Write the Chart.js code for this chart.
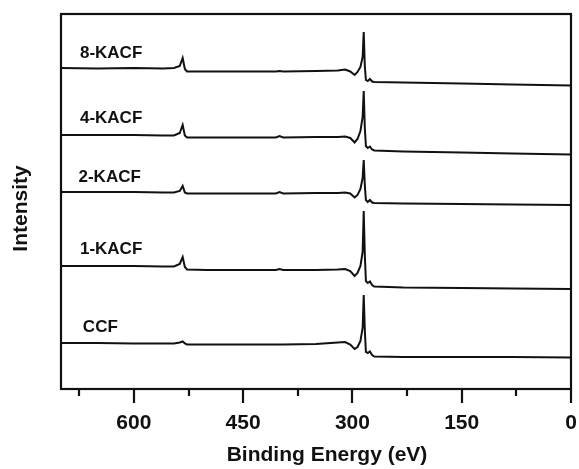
<!DOCTYPE html>
<html>
<head>
<meta charset="utf-8">
<script src="https://cdn.jsdelivr.net/npm/chart.js@4.4.1/dist/chart.umd.min.js"></script>
<style>
    body { margin: 0; background: #fff; }
</style>
</head>
<body>
<canvas id="myChart" width="579" height="469"></canvas>
<script>
// binding energy (eV) sample points shared by all spectra
const energy = [700, 650, 600, 560, 545, 537, 533, 530, 527, 500, 450, 405, 400, 395, 350, 320, 310, 303, 297, 293, 289, 286, 284.5, 283, 281.5, 279, 276, 273, 270, 230, 150, 80, 0];

// intensity (a.u., already offset for stacking)
const kacf8 = [321, 320.5, 321, 320.5, 321, 323, 331, 320, 317.5, 317.5, 317.5, 317.5, 318, 317.5, 318, 318.5, 319.5, 317.5, 314, 317, 322, 332, 357, 323, 309, 308, 310, 307.5, 307, 306.5, 305.5, 304.5, 303.5];
const kacf4 = [254, 254, 254, 253.5, 253.5, 256, 264, 253.5, 251.5, 251.5, 251.5, 251.5, 253, 251.5, 252, 252, 252.5, 251, 246.5, 250, 258, 272, 298, 261, 243, 241, 242.5, 239.5, 238.5, 237.5, 236.5, 235.5, 234.5];
const kacf2 = [197, 197, 197, 196.5, 196.5, 198, 203, 196.5, 195.5, 195.5, 195.5, 195.5, 197, 195.5, 196, 196, 196.5, 195.5, 191.5, 194, 200, 211, 229, 204, 189, 187, 189, 186.5, 186, 185.5, 185, 184.5, 184];
const kacf1 = [123, 123, 123, 122.5, 122.5, 125, 132, 122, 119.5, 119, 119, 119, 120, 119, 119, 119.5, 120, 118, 113, 116, 123, 137, 178, 134, 108, 106, 107.5, 104, 102.5, 101.5, 101, 100.5, 100];
const ccf = [46, 46, 45.5, 45.5, 45.5, 46.5, 47.5, 45.5, 44.5, 44.5, 44.5, 44.5, 44.5, 44.5, 45, 46.5, 47, 44.5, 40, 42, 48, 61, 94, 59, 37, 36, 37.5, 34, 32.5, 32, 32, 32, 31.5];

const seriesNames = ['8-KACF', '4-KACF', '2-KACF', '1-KACF', 'CCF'];
const seriesValues = [kacf8, kacf4, kacf2, kacf1, ccf];

// where each name sits (energy, intensity)
const labelEnergy = [674, 674, 676, 674, 670];
const labelIntensity = [336, 271, 212, 140, 62];

const majorTicks = [600, 450, 300, 150, 0];
const minorTicks = [675, 525, 375, 225, 75];

const FONT = '"Liberation Sans", Arial, sans-serif';
const INK = '#111';

const frame = {
    id: 'frame',
    afterDraw(chart) {
        const { ctx, chartArea: a, scales: { x, y } } = chart;
        ctx.save();
        ctx.strokeStyle = INK;
        ctx.lineWidth = 2.2;
        ctx.strokeRect(a.left, a.top, a.right - a.left, a.bottom - a.top);

        ctx.beginPath();
        majorTicks.forEach(v => {
            const px = Math.round(x.getPixelForValue(v));
            ctx.moveTo(px, a.bottom);
            ctx.lineTo(px, a.bottom + 14);
        });
        minorTicks.forEach(v => {
            const px = Math.round(x.getPixelForValue(v));
            ctx.moveTo(px, a.bottom);
            ctx.lineTo(px, a.bottom + 7);
        });
        ctx.stroke();

        ctx.fillStyle = INK;
        ctx.font = 'bold 17px ' + FONT;
        ctx.textAlign = 'left';
        ctx.textBaseline = 'middle';
        seriesNames.forEach((name, i) => {
            ctx.fillText(name, x.getPixelForValue(labelEnergy[i]), y.getPixelForValue(labelIntensity[i]));
        });

        // axis titles
        ctx.font = 'bold 21px ' + FONT;
        ctx.textAlign = 'center';
        ctx.fillText('Binding Energy (eV)', (a.left + a.right) / 2 + 11, a.bottom + 66);
        ctx.translate(21, (a.top + a.bottom) / 2 + 7);
        ctx.rotate(-Math.PI / 2);
        ctx.fillText('Intensity', 0, 0);
        ctx.restore();
    }
};

const ctx = document.getElementById('myChart').getContext('2d');
const myChart = new Chart(ctx, {
    type: 'line',
    data: {
        datasets: seriesValues.map((vals, i) => ({
            label: seriesNames[i],
            data: energy.map((e, j) => ({ x: e, y: vals[j] })),
            borderColor: INK,
            borderWidth: 2,
            pointRadius: 0,
            tension: 0,
            fill: false
        }))
    },
    options: {
        responsive: false,
        animation: false,
        layout: { padding: { top: 14, right: 8, left: 0, bottom: 0 } },
        plugins: {
            legend: { display: false },
            tooltip: { enabled: false }
        },
        scales: {
            x: {
                type: 'linear',
                min: 0,
                max: 700,
                reverse: true,
                afterBuildTicks: scale => {
                    scale.ticks = majorTicks.map(v => ({ value: v }));
                },
                afterFit: scale => {
                    scale.height = 80;
                    scale.paddingLeft = 0;
                    scale.paddingRight = 0;
                },
                grid: { display: false, drawTicks: false },
                border: { display: false },
                ticks: {
                    color: INK,
                    padding: 22,
                    maxRotation: 0,
                    autoSkip: false,
                    font: { family: FONT, size: 21, weight: 'bold' }
                },
                title: { display: false }
            },
            y: {
                min: 0,
                max: 375,
                afterFit: scale => { scale.width = 61; },
                grid: { display: false, drawTicks: false },
                border: { display: false },
                ticks: { display: false },
                title: { display: false }
            }
        }
    },
    plugins: [frame]
});
</script>
</body>
</html>
